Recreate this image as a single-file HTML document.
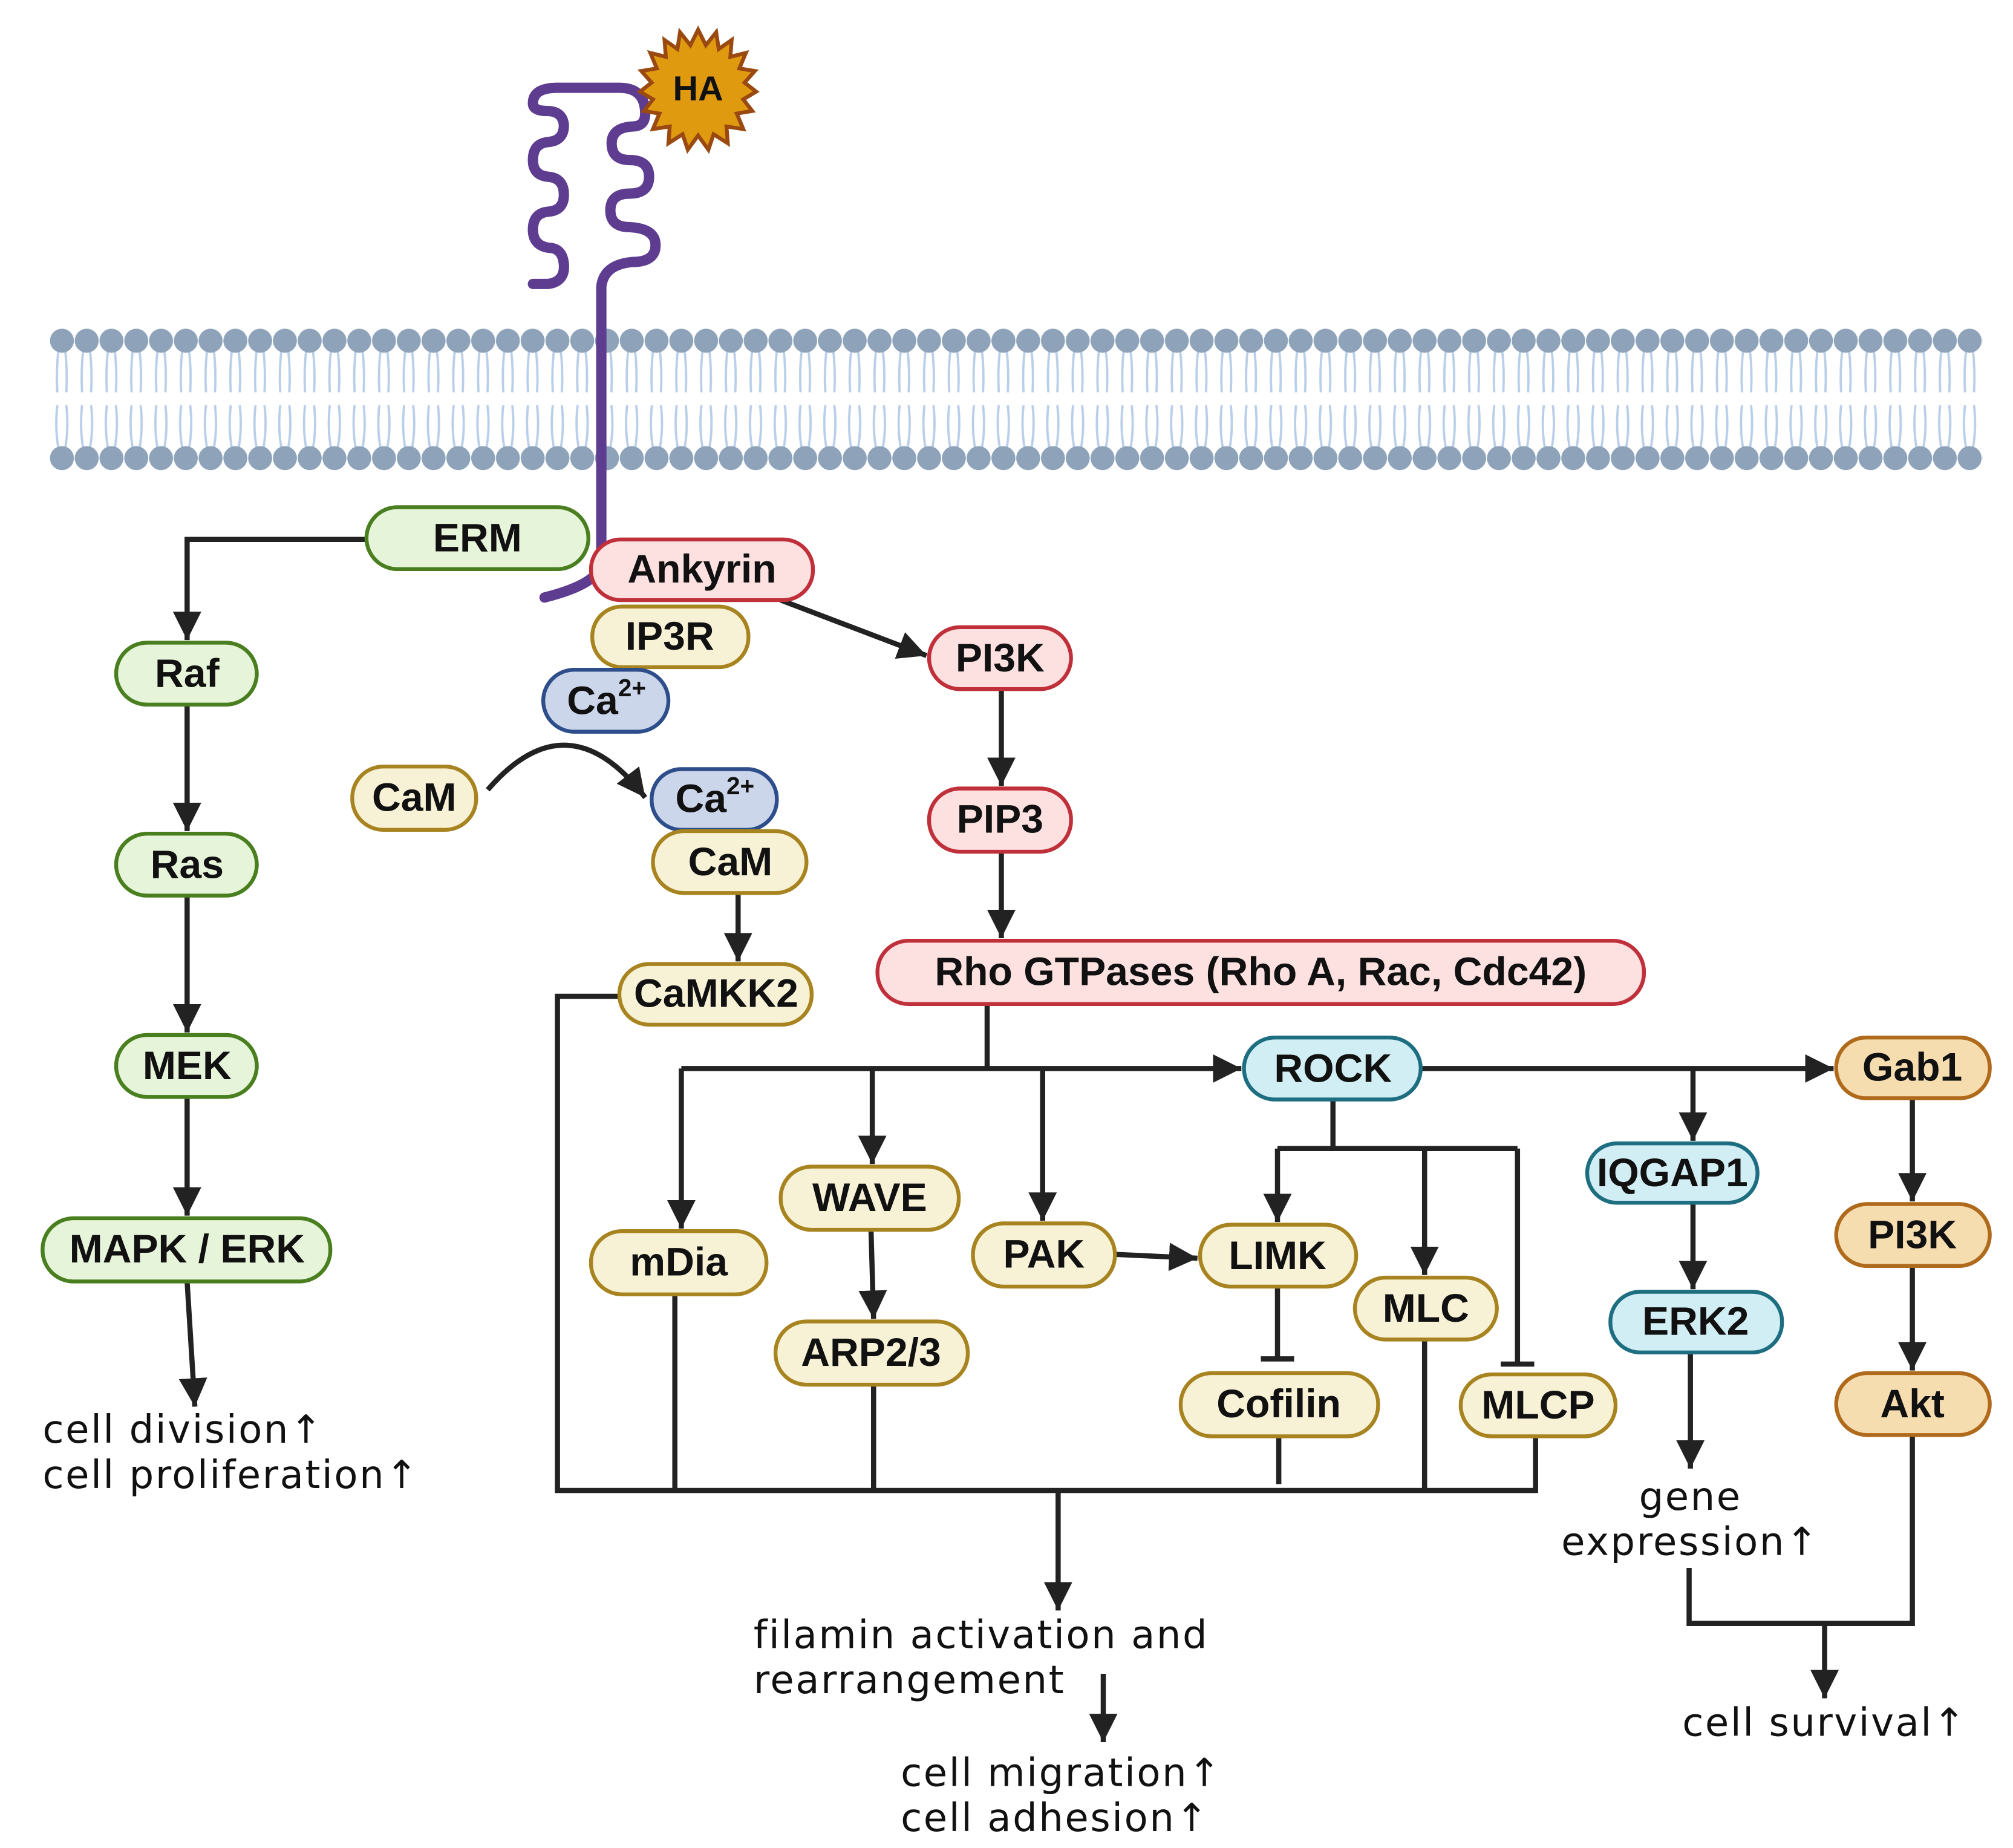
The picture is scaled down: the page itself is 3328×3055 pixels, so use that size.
<!DOCTYPE html>
<html><head><meta charset="utf-8"><style>
html,body{margin:0;padding:0;background:#fff;}
svg{display:block;}
.n{font-family:"Liberation Sans Narrow","Liberation Sans",sans-serif;font-weight:bold;font-size:31px;fill:#111;text-anchor:middle;dominant-baseline:central;}
.t{font-family:"DejaVu Sans","Liberation Sans",sans-serif;font-size:30px;letter-spacing:1.2px;fill:#111;}
.l{stroke:#222;stroke-width:4;fill:none;}
</style></head><body>
<svg width="3328" height="3055" viewBox="0 0 1560 1432" xmlns="http://www.w3.org/2000/svg">
<defs>
<marker id="a" markerUnits="userSpaceOnUse" markerWidth="24" markerHeight="24" refX="22" refY="11" orient="auto"><path d="M0,0 L22,11 L0,22 Z" fill="#222"/></marker>
<marker id="b" markerUnits="userSpaceOnUse" markerWidth="6" markerHeight="26" refX="2" refY="13" orient="auto"><path d="M2,0 L2,26" stroke="#222" stroke-width="4"/></marker>
<pattern id="mem" x="38.4" y="252" width="19.2" height="115" patternUnits="userSpaceOnUse">
<g stroke="#b9cfe9" stroke-width="1.8" fill="none">
<path d="M7,18 Q5,35 6,52"/><path d="M12,18 Q14,35 13,52"/>
<path d="M6,62 Q4,80 7,96"/><path d="M13,62 Q15,80 12,96"/>
</g>
<circle cx="9.6" cy="12" r="9.3" fill="#8ea3ba"/>
<circle cx="9.6" cy="103" r="9.3" fill="#8ea3ba"/>
</pattern>
</defs>
<rect x="0" y="0" width="1560" height="1432" fill="#fff"/>
<rect x="38.4" y="252" width="1498" height="115" fill="url(#mem)"/>

<path d="M413,220 L425,220 Q438,218 437,205 Q436,192 425,192 Q413,190 413,178 Q413,165 425,164 Q437,163 437,151 Q437,138 425,137 Q413,136 413,124 Q413,111 425,110 Q437,109 437,97 Q436,86 424,86 Q413,86 413,80 Q413,68 432,68 L480,68 Q500,68 500,88 Q500,98 490,98 Q474,99 474,111 Q474,124 488,124 Q503,124 503,137 Q503,150 488,150 Q473,150 473,163 Q473,176 488,176 Q508,177 508,190 Q508,203 490,203 Q468,205 466,222 L466,435 Q466,452 422,463" stroke="#5e3d91" stroke-width="8" fill="none" stroke-linecap="round" stroke-linejoin="round"/>
<g transform="translate(541,68)">
<polygon fill="#e09a10" stroke="#9a4a10" stroke-width="3" points="0,-45 6,-33 14,-43 16,-30 26,-37 25,-24 37,-27 32,-15 44,-13 36,-4 45,3 35,9 42,18 30,20 35,32 22,30 23,43 12,36 8,48 0,37 -8,48 -12,36 -23,43 -22,30 -35,32 -30,20 -42,18 -35,9 -45,3 -36,-4 -44,-13 -32,-15 -37,-27 -25,-24 -26,-37 -16,-30 -14,-43 -6,-33"/>
<text class="n" x="0" y="1" style="font-size:27px">HA</text>
</g>

<path class="l" d="M284,418 L145,418 L145,496" marker-end="url(#a)"/>
<path class="l" d="M145,546 L145,644" marker-end="url(#a)"/>
<path class="l" d="M145,694 L145,800" marker-end="url(#a)"/>
<path class="l" d="M145,850 L145,942" marker-end="url(#a)"/>
<path class="l" d="M145,993 L151,1090" marker-end="url(#a)"/>
<path class="l" d="M605,465 L718,508" marker-end="url(#a)"/>
<path class="l" d="M776,534 L776,609" marker-end="url(#a)"/>
<path class="l" d="M776,660 L776,727" marker-end="url(#a)"/>
<path class="l" d="M378,612 Q440,540 500,618" marker-end="url(#a)"/>
<path class="l" d="M572,692 L572,745" marker-end="url(#a)"/>
<path class="l" d="M765,778 L765,828"/>
<path class="l" d="M528,828 L962,828" marker-end="url(#a)"/>
<path class="l" d="M528,828 L528,952" marker-end="url(#a)"/>
<path class="l" d="M676,828 L676,902" marker-end="url(#a)"/>
<path class="l" d="M808,828 L808,946" marker-end="url(#a)"/>
<path class="l" d="M675,953 L677,1022" marker-end="url(#a)"/>
<path class="l" d="M864,972 L928,975" marker-end="url(#a)"/>
<path class="l" d="M1101,828 L1421,828" marker-end="url(#a)"/>
<path class="l" d="M1312,828 L1312,884" marker-end="url(#a)"/>
<path class="l" d="M1033,852 L1033,890 M990,890 L1176,890"/>
<path class="l" d="M990,890 L990,947" marker-end="url(#a)"/>
<path class="l" d="M1104,890 L1104,988" marker-end="url(#a)"/>
<path class="l" d="M1176,890 L1176,1057" marker-end="url(#b)"/>
<path class="l" d="M990,997 L990,1053" marker-end="url(#b)"/>
<path class="l" d="M1312,932 L1312,999" marker-end="url(#a)"/>
<path class="l" d="M1310,1048 L1310,1138" marker-end="url(#a)"/>
<path class="l" d="M1482,851 L1482,931" marker-end="url(#a)"/>
<path class="l" d="M1482,981 L1482,1062" marker-end="url(#a)"/>
<path class="l" d="M1482,1112 L1482,1258 L1309,1258 L1309,1215"/>
<path class="l" d="M1414,1258 L1414,1316" marker-end="url(#a)"/>
<path class="l" d="M480,772 L432,772 L432,1155 L1190,1155 L1190,1113"/>
<path class="l" d="M523,1003 L523,1155 M677,1073 L677,1155 M991,1113 L991,1150 M1104,1038 L1104,1155"/>
<path class="l" d="M820,1155 L820,1248" marker-end="url(#a)"/>
<path class="l" d="M855,1297 L855,1350" marker-end="url(#a)"/>

<g stroke-width="3">
<rect x="284" y="393" width="172" height="48" rx="24" fill="#e6f4da" stroke="#4a7f20"/>
<rect x="90" y="498" width="109" height="48" rx="24" fill="#e6f4da" stroke="#4a7f20"/>
<rect x="90" y="646" width="109" height="48" rx="24" fill="#e6f4da" stroke="#4a7f20"/>
<rect x="90" y="802" width="109" height="48" rx="24" fill="#e6f4da" stroke="#4a7f20"/>
<rect x="33" y="944" width="223" height="49" rx="24" fill="#e6f4da" stroke="#4a7f20"/>
<rect x="458" y="418" width="172" height="47" rx="23" fill="#fde0e0" stroke="#c0303a"/>
<rect x="459" y="470" width="121" height="47" rx="23" fill="#f7f1d6" stroke="#a88420"/>
<rect x="421" y="519" width="97" height="48" rx="24" fill="#ccd6ea" stroke="#2d4e8a"/>
<rect x="273" y="594" width="96" height="49" rx="24" fill="#f7f1d6" stroke="#a88420"/>
<rect x="505" y="596" width="97" height="47" rx="23" fill="#ccd6ea" stroke="#2d4e8a"/>
<rect x="506" y="644" width="119" height="48" rx="24" fill="#f7f1d6" stroke="#a88420"/>
<rect x="480" y="747" width="149" height="47" rx="23" fill="#f7f1d6" stroke="#a88420"/>
<rect x="720" y="486" width="110" height="48" rx="24" fill="#fde0e0" stroke="#c0303a"/>
<rect x="720" y="611" width="110" height="49" rx="24" fill="#fde0e0" stroke="#c0303a"/>
<rect x="680" y="729" width="594" height="49" rx="24" fill="#fde0e0" stroke="#c0303a"/>
<rect x="964" y="804" width="137" height="48" rx="24" fill="#d2eef5" stroke="#1d6e80"/>
<rect x="1230" y="886" width="132" height="46" rx="23" fill="#d2eef5" stroke="#1d6e80"/>
<rect x="1248" y="1001" width="133" height="47" rx="23" fill="#d2eef5" stroke="#1d6e80"/>
<rect x="1423" y="804" width="119" height="47" rx="23" fill="#f6ddb0" stroke="#b06a1c"/>
<rect x="1423" y="933" width="119" height="48" rx="24" fill="#f6ddb0" stroke="#b06a1c"/>
<rect x="1423" y="1064" width="119" height="48" rx="24" fill="#f6ddb0" stroke="#b06a1c"/>
<rect x="605" y="904" width="138" height="49" rx="24" fill="#f7f1d6" stroke="#a88420"/>
<rect x="458" y="954" width="136" height="49" rx="24" fill="#f7f1d6" stroke="#a88420"/>
<rect x="754" y="948" width="110" height="49" rx="24" fill="#f7f1d6" stroke="#a88420"/>
<rect x="930" y="949" width="121" height="48" rx="24" fill="#f7f1d6" stroke="#a88420"/>
<rect x="1050" y="990" width="110" height="48" rx="24" fill="#f7f1d6" stroke="#a88420"/>
<rect x="601" y="1024" width="149" height="49" rx="24" fill="#f7f1d6" stroke="#a88420"/>
<rect x="915" y="1064" width="153" height="49" rx="24" fill="#f7f1d6" stroke="#a88420"/>
<rect x="1132" y="1065" width="120" height="48" rx="24" fill="#f7f1d6" stroke="#a88420"/>
</g>

<text class="n" x="370" y="417">ERM</text>
<text class="n" x="145" y="522">Raf</text>
<text class="n" x="145" y="670">Ras</text>
<text class="n" x="145" y="826">MEK</text>
<text class="n" x="145" y="968">MAPK / ERK</text>
<text class="n" x="544" y="441">Ankyrin</text>
<text class="n" x="519" y="493">IP3R</text>
<text class="n" x="470" y="543">Ca<tspan dy="-10" style="font-size:19px">2+</tspan></text>
<text class="n" x="321" y="618">CaM</text>
<text class="n" x="554" y="619">Ca<tspan dy="-10" style="font-size:19px">2+</tspan></text>
<text class="n" x="566" y="668">CaM</text>
<text class="n" x="555" y="770">CaMKK2</text>
<text class="n" x="775" y="510">PI3K</text>
<text class="n" x="775" y="635">PIP3</text>
<text class="n" x="977" y="753">Rho GTPases (Rho A, Rac, Cdc42)</text>
<text class="n" x="1033" y="828">ROCK</text>
<text class="n" x="1296" y="909">IQGAP1</text>
<text class="n" x="1314" y="1024">ERK2</text>
<text class="n" x="1482" y="827">Gab1</text>
<text class="n" x="1482" y="957">PI3K</text>
<text class="n" x="1482" y="1088">Akt</text>
<text class="n" x="674" y="928">WAVE</text>
<text class="n" x="526" y="978">mDia</text>
<text class="n" x="809" y="972">PAK</text>
<text class="n" x="990" y="973">LIMK</text>
<text class="n" x="1105" y="1014">MLC</text>
<text class="n" x="675" y="1048">ARP2/3</text>
<text class="n" x="991" y="1088">Cofilin</text>
<text class="n" x="1192" y="1089">MLCP</text>

<text class="t" x="33" y="1118">cell division↑</text>
<text class="t" x="33" y="1153">cell proliferation↑</text>
<text class="t" x="1310" y="1170" text-anchor="middle">gene</text>
<text class="t" x="1310" y="1205" text-anchor="middle">expression↑</text>
<text class="t" x="1414" y="1345" text-anchor="middle">cell survival↑</text>
<text class="t" x="584" y="1277">filamin activation and</text>
<text class="t" x="584" y="1312">rearrangement</text>
<text class="t" x="698" y="1384">cell migration↑</text>
<text class="t" x="698" y="1419">cell adhesion↑</text>
</svg>
</body></html>
